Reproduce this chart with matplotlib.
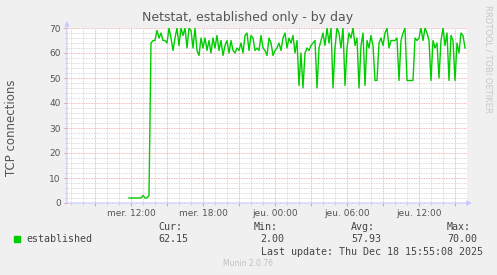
import matplotlib
matplotlib.use('Agg')
import matplotlib.pyplot as plt
import matplotlib.dates as mdates
import pandas as pd

# data (10 minute samples)
start = '2025-12-17 11:50'
established = [
    2, 2, 2, 2, 2, 2, 2, 3, 2, 2, 3,
    64, 65, 65, 69, 66, 68, 65, 65, 64, 70, 66, 61, 66, 70, 63, 70, 67, 70,
    62, 70, 69, 62, 70, 61, 59, 66, 62, 66, 61, 65, 60, 66, 62, 67, 61, 65,
    59, 63, 65, 60, 65, 61, 60, 62, 61, 64, 60, 67, 68, 61, 67, 66, 61, 62,
    61, 67, 62, 61, 59, 66, 64, 59, 61, 62, 64, 61, 66, 68, 62, 66, 64, 67,
    60, 65, 47, 60, 46, 60, 62, 61, 63, 64, 65, 46, 62, 65, 68, 63, 70, 64,
    70, 46, 62, 70, 68, 62, 70, 47, 62, 68, 66, 70, 63, 66, 46, 63, 68, 47,
    65, 62, 67, 63, 49, 49, 64, 66, 63, 68, 70, 62, 65, 65, 65, 66, 49, 65,
    68, 70, 49, 49, 49, 49, 66, 65, 66, 70, 65, 70, 68, 65, 49, 65, 62, 64,
    50, 65, 70, 63, 68, 49, 67, 65, 49, 64, 60, 68, 67, 62,
]
x_start = '2025-12-17 06:40'
x_end = '2025-12-18 16:00'
yticks = [0, 10, 20, 30, 40, 50, 60, 70]
days_fr = ['lun.', 'mar.', 'mer.', 'jeu.', 'ven.', 'sam.', 'dim.']
stats_labels = ['Cur:', 'Min:', 'Avg:', 'Max:']
stats_values = ['62.15', '2.00', '57.93', '70.00']

times = pd.date_range(start, periods=len(established), freq='10min')

W, H = 497, 275
fig = plt.figure(figsize=(W / 100, H / 100), dpi=100, facecolor='#f0f0f0')
ax = fig.add_axes([67 / W, 72 / H, 400 / W, 175 / H])
ax.set_facecolor('white')

ax.plot(times, established, color='#00cc00', lw=1.0, zorder=5)

ax.set_xlim(pd.Timestamp(x_start), pd.Timestamp(x_end))
ax.set_ylim(0, 70)

# grid
ax.xaxis.set_major_locator(mdates.HourLocator(byhour=range(0, 24, 3)))
ax.xaxis.set_minor_locator(mdates.HourLocator())


def fmt_date(x, pos):
    d = mdates.num2date(x)
    if d.hour % 6:
        return ''
    return '%s %02d:00' % (days_fr[d.weekday()], d.hour)


ax.xaxis.set_major_formatter(plt.FuncFormatter(fmt_date))
ax.set_yticks(yticks)
ax.set_yticks(range(0, 71, 2), minor=True)

ax.grid(which='minor', color='#cfcfcf', linestyle=(0, (1, 1)), lw=0.6, zorder=1)
ax.grid(which='major', color='#eea0a0', linestyle=(0, (1, 1)), lw=0.6, zorder=2)
ax.set_axisbelow(True)

ax.tick_params(which='major', length=2.5, width=0.6, color='#f08080',
               labelsize=6.5, labelcolor='#555555', pad=2)
ax.tick_params(which='minor', length=1.5, width=0.5, color='#c0c0c0')
for s in ax.spines.values():
    s.set_visible(False)

# axis lines with arrows
ax.annotate('', xy=(1.012, 0), xytext=(0, 0), xycoords='axes fraction',
            arrowprops=dict(arrowstyle='-|>', color='#c8c8ff', lw=0.8,
                            mutation_scale=7, shrinkA=0, shrinkB=0), zorder=6)
ax.annotate('', xy=(0, 1.04), xytext=(0, 0), xycoords='axes fraction',
            arrowprops=dict(arrowstyle='-|>', color='#c8c8ff', lw=0.8,
                            mutation_scale=7, shrinkA=0, shrinkB=0), zorder=6)

# texts
fig.text(248 / W, 1 - 18 / H, 'Netstat, established only - by day',
         ha='center', va='center', fontsize=9, color='#555555')
fig.text(12 / W, 1 - 128 / H, 'TCP connections', rotation=90,
         ha='center', va='center', fontsize=8.5, color='#555555')
fig.text(488 / W, 1 - 5 / H, 'RRDTOOL / TOBI OETIKER', rotation=270,
         ha='center', va='top', fontsize=6, color='#c8c8c8')

mono = dict(family='DejaVu Sans Mono', fontsize=7.2, color='#444444', va='center')
fig.patches.append(plt.Rectangle((14 / W, 1 - 242 / H), 6 / W, 6 / H,
                                 transform=fig.transFigure, color='#00cc00'))
fig.text(26 / W, 1 - 239 / H, 'established', ha='left', **mono)
stat_x = [158, 254, 351, 447]
for lx, lab, val in zip(stat_x, stats_labels, stats_values):
    fig.text(lx / W, 1 - 227 / H, lab, ha='left', **mono)
    fig.text((lx + 30) / W, 1 - 239 / H, val, ha='right', **mono)
fig.text(483 / W, 1 - 252 / H, 'Last update: Thu Dec 18 15:55:08 2025',
         ha='right', **mono)
fig.text(248 / W, 1 - 264 / H, 'Munin 2.0.76', ha='center', va='center',
         fontsize=5.5, color='#c0c0c0')

fig.savefig('out.png', dpi=100, facecolor=fig.get_facecolor())
